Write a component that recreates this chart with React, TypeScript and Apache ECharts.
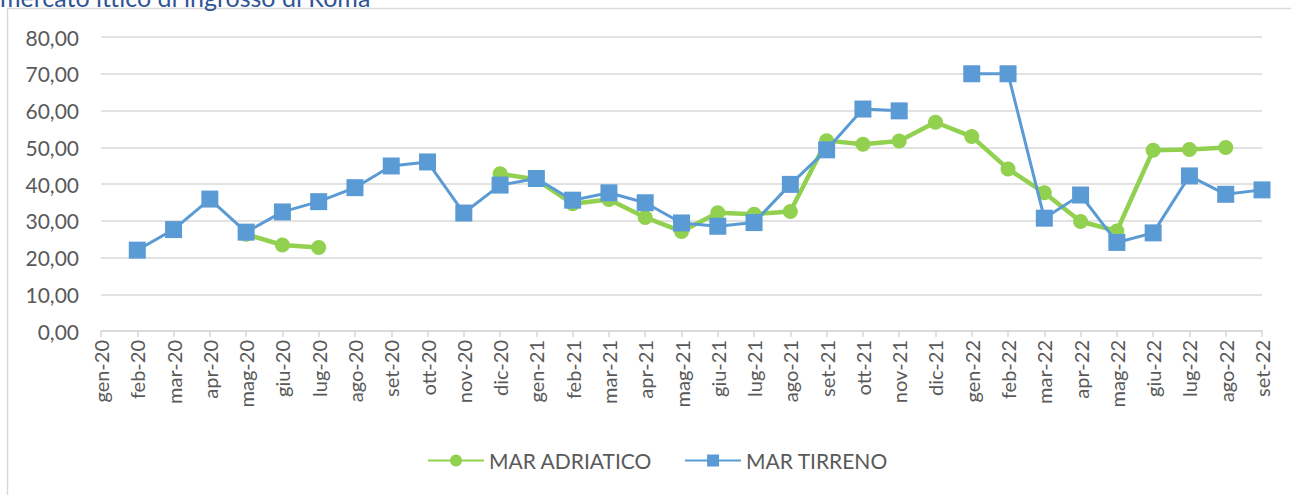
import React, { useEffect, useRef } from "react";
import * as echarts from "echarts";

const categories = [
  "gen-20","feb-20","mar-20","apr-20","mag-20","giu-20","lug-20","ago-20","set-20","ott-20","nov-20","dic-20",
  "gen-21","feb-21","mar-21","apr-21","mag-21","giu-21","lug-21","ago-21","set-21","ott-21","nov-21","dic-21",
  "gen-22","feb-22","mar-22","apr-22","mag-22","giu-22","lug-22","ago-22","set-22",
];

const adriatico: (number | null)[] = [
  null, null, null, null, 26.3, 23.4, 22.7, null, null, null, null, 42.8,
  41.2, 34.6, 35.8, 30.9, 27.1, 32.2, 31.8, 32.5, 51.8, 50.8, 51.7, 56.8,
  52.9, 44.1, 37.6, 29.8, 27.2, 49.2, 49.4, 49.9, null,
];

const tirreno: (number | null)[] = [
  null, 22.0, 27.6, 35.9, 26.9, 32.4, 35.2, 39.0, 44.9, 46.0, 32.1, 39.7,
  41.5, 35.6, 37.6, 34.9, 29.4, 28.5, 29.5, 39.9, 49.3, 60.4, 59.9, null,
  70.0, 70.0, 30.7, 37.0, 24.1, 26.7, 42.2, 37.2, 38.4,
];

const yTicks = { min: 0, max: 80, interval: 10 };
const seriesNames = ["MAR ADRIATICO", "MAR TIRRENO"];
const titleText = "mercato ittico di ingrosso di Roma";

export default function App() {
  const ref = useRef<HTMLDivElement>(null);
  useEffect(() => {
    if (!ref.current) return;
    const chart = echarts.init(ref.current, undefined, { renderer: "svg" });
    const font = "Lato, 'Open Sans', sans-serif";
    chart.setOption({
      animation: false,
      backgroundColor: "#ffffff",
      textStyle: { fontFamily: font },
      graphic: [
        {
          type: "rect",
          shape: { x: 7.5, y: 8.5, width: 1320, height: 520 },
          style: { fill: "none", stroke: "#D9D9D9", lineWidth: 1.5 },
          silent: true,
        },
        {
          type: "text",
          x: 0,
          y: 9,
          style: {
            text: titleText,
            fill: "#2F5597",
            font: `25px ${font}`,
            textVerticalAlign: "bottom",
          },
        },
      ],
      grid: { left: 101, right: 29, top: 37, bottom: 164, containLabel: false },
      legend: {
        bottom: 19,
        left: 422,
        itemWidth: 56,
        itemHeight: 15,
        itemGap: 32,
        textStyle: { color: "#595959", fontSize: 21, fontFamily: font },
        data: seriesNames,
      },
      xAxis: {
        type: "category",
        data: categories,
        boundaryGap: false,
        axisLine: { lineStyle: { color: "#D9D9D9", width: 1.5 } },
        axisTick: { show: true, length: 6, lineStyle: { color: "#D9D9D9", width: 1.5 } },
        axisLabel: {
          rotate: 90,
          color: "#595959",
          fontSize: 20,
          margin: 9,
          interval: 0,
          fontFamily: font,
        },
        splitLine: { show: false },
      },
      yAxis: {
        type: "value",
        min: yTicks.min,
        max: yTicks.max,
        interval: yTicks.interval,
        axisLine: { show: false },
        axisTick: { show: false },
        axisLabel: {
          color: "#595959",
          fontSize: 21,
          margin: 22,
          fontFamily: font,
          formatter: (v: number) => v.toFixed(2).replace(".", ","),
        },
        splitLine: { lineStyle: { color: "#D9D9D9", width: 1.5 } },
      },
      series: [
        {
          name: seriesNames[0],
          type: "line",
          data: adriatico,
          connectNulls: false,
          symbol: "circle",
          symbolSize: 15,
          lineStyle: { color: "#92D050", width: 4.5 },
          itemStyle: { color: "#92D050" },
          z: 2,
        },
        {
          name: seriesNames[1],
          type: "line",
          data: tirreno,
          connectNulls: false,
          symbol: "rect",
          symbolSize: 17,
          lineStyle: { color: "#5B9BD5", width: 3 },
          itemStyle: { color: "#5B9BD5" },
          z: 3,
        },
      ],
    });
    return () => chart.dispose();
  }, []);
  return (
    <div
      ref={ref}
      style={{ position: "absolute", left: 0, top: 0, width: 1291, height: 495 }}
    />
  );
}
